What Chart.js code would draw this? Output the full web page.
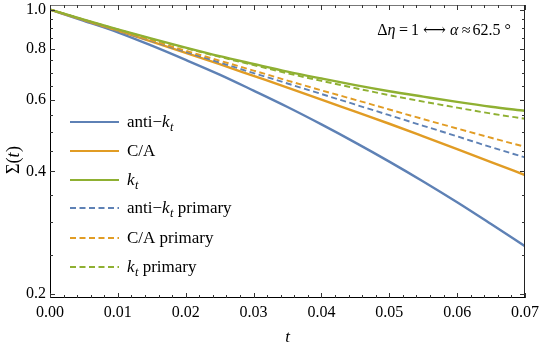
<!DOCTYPE html>
<html>
<head>
<meta charset="utf-8">
<script src="https://cdn.jsdelivr.net/npm/chart.js@4.4.0/dist/chart.umd.min.js"></script>
<style>
html,body{margin:0;padding:0;background:#fff;}
#wrap{width:540px;height:348px;position:relative;}
</style>
</head>
<body>
<div id="wrap"><canvas id="c" width="540" height="348"></canvas></div>
<script>
// ---- data ----
const tValues = [0,0.005,0.01,0.015,0.02,0.025,0.03,0.035,0.04,0.045,0.05,0.055,0.06,0.065,0.07];
const antiKt        = [1.0,0.938,0.879,0.815,0.752,0.692,0.632,0.576,0.522,0.471,0.423,0.378,0.336,0.297,0.262];
const ca            = [1.0,0.942,0.887,0.834,0.783,0.734,0.687,0.643,0.601,0.561,0.524,0.488,0.454,0.422,0.392];
const kt            = [1.0,0.944,0.894,0.848,0.806,0.768,0.735,0.704,0.677,0.652,0.630,0.611,0.593,0.577,0.564];
const antiKtPrimary = [1.0,0.942,0.887,0.836,0.787,0.741,0.698,0.658,0.620,0.584,0.550,0.518,0.488,0.459,0.433];
const caPrimary     = [1.0,0.943,0.889,0.839,0.792,0.749,0.708,0.669,0.633,0.600,0.568,0.538,0.510,0.484,0.460];
const ktPrimary     = [1.0,0.944,0.893,0.846,0.804,0.765,0.730,0.697,0.668,0.641,0.616,0.594,0.574,0.555,0.539];

const xMajorTicks = [0,0.01,0.02,0.03,0.04,0.05,0.06,0.07];
const yMajorTicks = [0.2,0.4,0.6,0.8,1.0];
const yMinorTicks = [0.25,0.3,0.35,0.45,0.5,0.55,0.65,0.7,0.75,0.85,0.9,0.95];
const xMinorStep = 0.002;

const BLUE = '#5E81B5', ORANGE = '#E19C24', GREEN = '#8FB032';
const SERIF = '"Liberation Serif","DejaVu Serif",serif';

const series = [
  {data: antiKt, color: BLUE, dash: [], label: [{t:'anti\u2212'},{t:'k',i:1},{t:'t',i:1,s:1}]},
  {data: ca, color: ORANGE, dash: [], label: [{t:'C/A'}]},
  {data: kt, color: GREEN, dash: [], label: [{t:'k',i:1},{t:'t',i:1,s:1}]},
  {data: antiKtPrimary, color: BLUE, dash: [6,3.5], label: [{t:'anti\u2212'},{t:'k',i:1},{t:'t',i:1,s:1},{t:' primary'}]},
  {data: caPrimary, color: ORANGE, dash: [6,3.5], label: [{t:'C/A primary'}]},
  {data: ktPrimary, color: GREEN, dash: [6,3.5], label: [{t:'k',i:1},{t:'t',i:1,s:1},{t:' primary'}]},
];

function drawParts(ctx, parts, x, y, size, measureOnly) {
  let cx = x;
  for (const p of parts) {
    if (p.g) { cx += p.g; continue; }
    const fs = p.s ? size * 0.72 : size;
    ctx.font = (p.i ? 'italic ' : '') + fs + 'px ' + SERIF;
    if (!measureOnly) ctx.fillText(p.t, cx, y + (p.s ? size * 0.28 : 0));
    cx += ctx.measureText(p.t).width + (p.i && !p.s ? 0.5 : 0);
  }
  return cx - x;
}

const decorPlugin = {
  id: 'decor',
  afterDatasetsDraw(chart) {
    const ctx = chart.ctx, a = chart.chartArea;
    const xs = chart.scales.x, ys = chart.scales.y;
    ctx.save();
    // frame
    ctx.lineWidth = 1;
    ctx.strokeStyle = '#777';
    ctx.beginPath(); ctx.moveTo(a.left, a.top + 0.5); ctx.lineTo(a.right, a.top + 0.5); ctx.stroke();
    ctx.strokeStyle = '#222';
    ctx.beginPath(); ctx.moveTo(a.right - 0.5, a.top); ctx.lineTo(a.right - 0.5, a.bottom); ctx.stroke();
    ctx.strokeStyle = '#000';
    ctx.beginPath(); ctx.moveTo(a.left + 0.5, a.top); ctx.lineTo(a.left + 0.5, a.bottom); ctx.stroke();
    ctx.beginPath(); ctx.moveTo(a.left, a.bottom - 0.5); ctx.lineTo(a.right, a.bottom - 0.5); ctx.stroke();
    // x ticks (bottom & top, inward)
    ctx.strokeStyle = '#333';
    const nMinor = Math.round(0.07 / xMinorStep);
    for (let k = 0; k <= nMinor; k++) {
      const v = k * xMinorStep;
      const major = k % 5 === 0;
      const len = major ? 5 : 3;
      const px = Math.round(xs.getPixelForValue(v)) + 0.5;
      ctx.beginPath(); ctx.moveTo(px, a.bottom); ctx.lineTo(px, a.bottom - len); ctx.stroke();
      ctx.beginPath(); ctx.moveTo(px, a.top); ctx.lineTo(px, a.top + len); ctx.stroke();
    }
    // y ticks (left & right, inward)
    const yt = yMajorTicks.map(v => [v, 5]).concat(yMinorTicks.map(v => [v, 3]));
    for (const [v, len] of yt) {
      const py = Math.round(ys.getPixelForValue(v)) + 0.5;
      ctx.beginPath(); ctx.moveTo(a.left, py); ctx.lineTo(a.left + len, py); ctx.stroke();
      ctx.beginPath(); ctx.moveTo(a.right, py); ctx.lineTo(a.right - len, py); ctx.stroke();
    }
    // legend
    ctx.textBaseline = 'middle';
    ctx.textAlign = 'left';
    ctx.fillStyle = '#000';
    const legY = [122, 151, 180, 208, 238, 267];
    chart.data.datasets.forEach((ds, i) => {
      const y = legY[i];
      ctx.strokeStyle = ds.borderColor;
      ctx.lineWidth = i < 3 ? 2.2 : 1.8;
      ctx.setLineDash(ds.borderDash || []);
      ctx.beginPath(); ctx.moveTo(70, y); ctx.lineTo(119, y); ctx.stroke();
      ctx.setLineDash([]);
      ctx.fillStyle = '#000';
      drawParts(ctx, series[i].label, 127, y + 1, 17);
    });
    // annotation (right end near x = 511)
    const ann = [{t:'\u0394'},{t:'\u03B7',i:1},{g:3},{t:'='},{g:3},{t:'1'},{g:4},{t:'\u27F7'},{g:4},{t:'\u03B1',i:1},{g:3},{t:'\u2248'},{g:2},{t:'62.5'},{g:4},{t:'\u00B0'}];
    const aw = drawParts(ctx, ann, 0, 0, 16, true);
    drawParts(ctx, ann, 511 - aw, 31, 16);
    // axis titles
    ctx.textAlign = 'center';
    ctx.font = 'italic 17px ' + SERIF;
    ctx.fillText('t', (a.left + a.right) / 2, 338);
    ctx.save();
    ctx.translate(14, 160);
    ctx.rotate(-Math.PI / 2);
    ctx.textAlign = 'left';
    const parts = [{t:'\u03A3('},{t:'t',i:1},{t:')'}];
    const w = drawParts(ctx, parts, 0, 0, 18, true);
    drawParts(ctx, parts, -w / 2, 0, 18);
    ctx.restore();
    ctx.restore();
  }
};

const datasets = series.map((s, i) => ({
  label: s.label.map(p => p.t).join(''),
  data: tValues.map((t, j) => ({x: t, y: s.data[j]})),
  borderColor: s.color,
  borderDash: s.dash,
  borderWidth: i < 3 ? 2.4 : 1.9,
  pointRadius: 0,
  fill: false,
  tension: 0.4,
  cubicInterpolationMode: 'monotone',
  order: 6 - i
}));

new Chart(document.getElementById('c'), {
  type: 'line',
  data: {datasets},
  options: {
    responsive: false,
    animation: false,
    devicePixelRatio: 1,
    layout: {padding: {top: 5, right: 15, left: 0, bottom: 0}},
    plugins: {legend: {display: false}, tooltip: {enabled: false}},
    scales: {
      x: {
        type: 'linear', min: 0, max: 0.07,
        afterFit: s => { s.height = 50; s.paddingLeft = 0; s.paddingRight = 0; },
        afterBuildTicks: s => { s.ticks = xMajorTicks.map(v => ({value: v})); },
        grid: {display: false, drawTicks: false},
        border: {display: false},
        ticks: {
          padding: 5, color: '#000',
          font: {family: SERIF, size: 16},
          maxRotation: 0, autoSkip: false,
          callback: v => Number(v).toFixed(2)
        }
      },
      y: {
        type: 'logarithmic', min: 0.1955, max: 1.026,
        afterFit: s => { s.width = 50; s.paddingTop = 0; s.paddingBottom = 0; },
        afterBuildTicks: s => { s.ticks = yMajorTicks.map(v => ({value: v})); },
        grid: {display: false, drawTicks: false},
        border: {display: false},
        ticks: {
          padding: 4, color: '#000',
          font: {family: SERIF, size: 16},
          autoSkip: false,
          callback: v => Number(v).toFixed(1)
        }
      }
    }
  },
  plugins: [decorPlugin]
});
</script>
</body>
</html>
